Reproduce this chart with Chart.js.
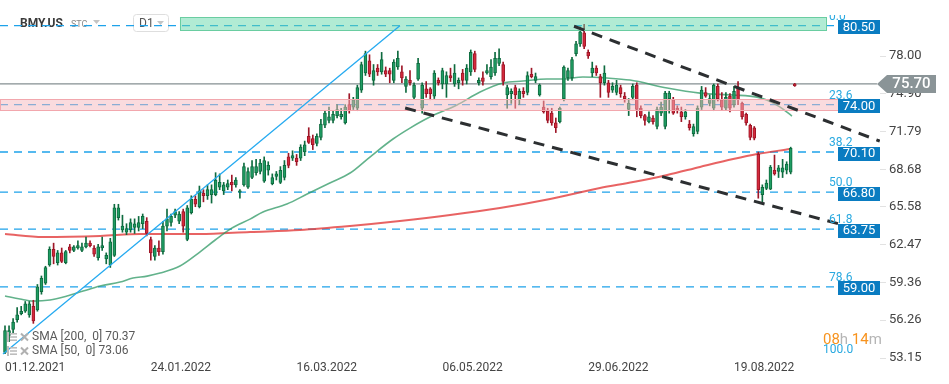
<!DOCTYPE html>
<html><head><meta charset="utf-8">
<script src="https://cdn.jsdelivr.net/npm/chart.js@4.4.1/dist/chart.umd.min.js"></script>
<style>html,body{margin:0;padding:0;background:#fff;overflow:hidden}canvas{display:block}</style>
</head><body>
<canvas id="c" width="949" height="384"></canvas>
<script>
// ---------- data ----------
const opens = [
53.6,55.0,55.5,56.3,56.8,57.0,56.7,57.4,57.1,58.6,
59.3,60.8,62.1,61.0,61.8,61.0,62.3,62.0,62.2,62.0,
62.3,62.6,62.2,61.4,62.2,61.3,60.8,61.6,64.7,63.7,
63.5,63.7,63.9,63.9,64.2,64.4,62.9,61.5,62.2,61.9,
64.0,64.3,64.9,64.4,65.2,62.9,65.1,66.2,65.6,66.7,
66.5,66.6,66.6,67.2,66.9,67.2,67.6,67.4,66.8,67.4,
67.2,68.0,68.4,68.5,67.7,68.6,67.5,68.1,67.6,68.0,
69.7,69.6,69.6,69.6,70.1,71.4,71.2,70.8,71.3,72.3,
72.7,72.7,73.1,73.0,72.5,74.0,73.8,73.7,75.2,76.6,
77.6,76.0,77.0,76.7,76.8,76.8,76.0,77.1,76.7,75.5,
76.0,74.6,76.1,73.7,75.3,75.3,74.7,76.0,75.7,75.7,
76.4,75.7,75.8,76.6,76.0,76.7,78.2,75.8,76.2,76.6,
76.3,76.6,77.4,77.3,74.8,74.9,75.4,74.4,75.1,75.0,
76.5,76.0,74.8,73.8,73.5,73.3,72.5,72.6,74.5,76.2,
76.2,78.2,79.0,79.9,78.3,76.6,77.0,76.3,75.8,75.8,
75.2,75.0,75.4,74.7,73.6,74.6,75.6,73.7,73.1,72.6,
72.9,72.2,73.3,72.2,74.5,74.4,73.7,73.4,73.0,72.4,
71.6,71.8,73.8,75.0,74.1,73.7,75.5,74.4,73.7,74.7,
74.0,75.4,74.1,73.2,72.3,72.1,69.9,66.6,67.1,67.05,
68.6,68.5,68.45,68.6,68.45,75.7];
const highs = [
55.8,55.8,56.4,57.3,57.4,57.8,57.8,57.9,59.2,59.9,
60.7,62.3,62.6,62.0,62.2,62.0,62.5,62.4,62.8,62.6,
63.1,62.8,62.4,62.5,63.1,61.8,63.0,65.8,65.8,64.9,
64.2,64.6,64.6,64.8,65.0,64.7,63.1,62.4,62.8,64.4,
65.4,65.0,65.4,65.2,65.4,65.7,66.5,66.5,67.3,67.0,
67.4,67.4,68.4,68.3,67.6,67.8,68.2,68.0,67.0,69.2,
68.8,69.4,69.5,69.5,69.7,69.3,68.3,68.5,68.9,69.4,
70.0,70.2,69.9,70.7,71.0,72.1,71.5,71.6,72.8,73.5,
73.8,73.5,74.0,73.7,74.0,74.9,74.6,75.6,77.5,78.4,
78.1,77.3,77.3,78.3,77.1,77.0,77.7,78.4,77.2,76.3,
76.8,75.8,77.8,75.8,75.9,75.4,76.8,76.2,77.0,76.7,
77.0,77.3,76.2,76.9,77.3,78.5,78.4,76.2,76.7,77.3,
77.7,78.3,78.6,77.5,75.6,75.3,75.6,75.3,75.4,76.7,
77.0,76.6,75.7,74.3,73.7,73.7,72.9,73.8,77.2,77.0,
77.9,79.2,80.4,80.6,78.5,77.5,77.2,76.5,77.2,76.0,
75.8,76.0,75.6,75.0,74.5,75.7,75.8,73.9,73.2,73.4,
73.1,73.8,74.2,75.1,75.1,74.6,73.9,73.8,73.6,72.7,
72.4,73.9,75.5,75.4,74.8,75.7,75.7,75.0,75.0,74.9,
75.5,75.9,74.2,73.3,72.4,72.2,70.1,67.4,67.8,69.0,
69.85,69.0,69.5,69.3,70.5,75.75];
const lows = [
53.5,54.5,55.2,56.1,56.7,56.9,56.5,56.0,57.0,58.4,
59.2,60.7,60.9,60.8,61.0,60.9,61.8,61.9,62.1,61.9,
62.2,62.3,61.5,61.2,62.0,60.9,60.6,61.5,64.5,63.5,
63.3,63.5,63.4,63.6,63.8,63.2,61.2,61.2,61.6,61.7,
63.6,64.0,64.7,64.2,63.5,62.8,65.0,65.6,65.5,66.0,
66.2,65.9,66.5,67.0,66.6,67.0,66.9,67.2,66.3,67.3,
67.1,67.9,68.2,68.3,67.6,68.2,67.4,67.8,67.5,67.8,
68.8,69.4,69.0,69.4,69.8,70.8,70.3,70.6,71.1,72.1,
72.5,72.5,72.9,72.8,72.4,73.3,73.6,73.5,75.0,76.4,
76.3,75.6,76.4,76.5,76.3,75.8,75.8,76.9,75.8,75.0,
75.6,74.4,76.0,73.3,74.6,74.4,74.5,75.6,75.3,74.6,
75.9,75.5,75.3,75.6,75.7,76.4,76.7,75.6,75.6,76.5,
76.1,76.4,77.2,75.6,73.7,74.1,73.7,74.0,74.6,74.8,
76.2,75.8,74.7,73.3,72.5,72.3,71.7,72.5,74.3,76.0,
76.0,78.0,78.8,78.6,77.8,76.3,76.4,74.6,75.6,74.6,
75.0,74.8,74.6,74.2,73.1,74.4,73.0,72.9,72.3,72.5,
72.4,72.0,73.1,72.0,73.3,73.2,73.3,72.6,72.8,71.9,
71.4,71.6,73.6,74.6,73.9,73.5,74.3,73.5,73.5,73.4,
73.8,74.0,72.8,72.3,71.1,71.1,66.3,65.9,67.0,67.0,
68.2,68.0,68.0,68.3,68.3,75.5];
const closes = [
55.4,55.4,56.1,56.7,57.0,57.6,57.6,56.2,59.0,59.7,
60.6,62.1,61.5,61.8,61.1,61.9,62.0,62.3,62.4,62.3,
62.6,62.4,61.7,62.3,62.4,61.6,62.7,65.5,65.5,64.0,
63.8,64.3,64.2,64.3,64.8,63.4,61.8,62.2,61.9,64.0,
64.6,64.8,65.2,65.0,64.0,65.5,66.2,65.8,66.9,66.5,
67.0,67.0,67.8,67.6,67.4,67.5,67.4,67.8,66.9,68.9,
68.5,68.9,68.9,69.2,69.4,69.0,68.0,68.3,68.6,69.0,
69.0,69.8,69.3,70.5,70.7,70.9,70.7,71.4,72.4,73.3,
73.0,73.2,73.6,73.2,73.8,73.5,74.4,75.4,77.3,78.2,
76.5,76.8,76.7,77.7,76.5,76.5,77.5,77.8,76.2,76.1,
75.8,75.6,77.4,75.6,74.9,74.9,76.6,75.8,76.8,76.4,
76.2,76.6,76.0,76.0,77.0,78.3,76.9,76.0,75.9,76.8,
77.1,77.8,77.8,75.9,75.4,75.1,74.8,75.1,74.9,76.4,
76.3,76.3,75.6,73.4,72.7,72.5,72.1,73.7,77.1,76.8,
77.7,79.0,80.0,78.8,78.0,77.0,76.6,75.8,76.6,75.0,
75.5,75.6,74.9,74.5,74.1,75.5,73.6,73.1,72.7,73.0,
72.6,73.6,73.8,74.95,74.95,73.3,73.5,73.0,73.4,72.1,
72.2,73.7,75.2,74.7,74.5,75.6,74.5,73.8,74.6,73.7,
75.1,74.4,73.0,72.5,71.3,71.25,67.0,67.2,67.55,68.87,
68.3,68.8,68.8,69.1,70.4,75.55];

const dateTickIndex = [0, 36, 72, 108, 144, 180];
const dateTickLabels = ['01.12.2021','24.01.2022','16.03.2022','06.05.2022','29.06.2022','19.08.2022'];
const priceTicks = [53.15, 56.26, 59.36, 62.47, 65.58, 68.68, 71.79, 74.90, 78.00];

// moving averages: [candle index, value]
const sma50 = [[0,58.25],[3.7,58.0],[6.9,57.83],[11.1,57.92],[15.3,58.25],[19.3,58.66],[23.5,59.07],[28.4,59.4],
  [31.6,59.73],[35.1,59.89],[38.3,60.14],[43.2,60.72],[48.1,61.87],[51.9,62.86],[55.6,63.76],[60.5,64.58],
  [63.7,65.16],[69.6,65.82],[74.6,66.64],[80.2,67.55],[85.2,68.37],[90.1,69.69],[95.8,71.17],[100,72.07],
  [104.9,72.98],[111.6,73.97],[117.3,75.04],[123,75.78],[127.9,75.94],[133.8,76.11],[137.8,76.11],[142.7,76.27],
  [148.6,76.19],[154.3,76.02],[163.5,75.37],[171.6,74.95],[179.8,74.79],[185.7,74.62],[188.1,74.38],[191.4,73.8],[194.3,73.06]];
const sma200 = [[0,63.35],[9.4,63.1],[23.5,63.19],[33.3,63.35],[48.1,63.35],[60.5,63.52],[72.8,63.68],[85.2,64.01],
  [97.5,64.42],[109.9,64.91],[122.2,65.49],[134.6,66.23],[146.9,67.14],[155.1,67.63],[163.5,68.21],[171.6,68.87],
  [179.8,69.52],[185.7,69.93],[193.8,70.35]];
const sma200Last = 70.37, sma50Last = 73.06;

// drawn objects
const levels = [80.50, 74.00, 70.10, 66.80, 63.75, 59.00];
const fibLabels = ['0.0', '23.6', '38.2', '50.0', '61.8', '78.6'];
const fibEndLabel = '100.0';
const lastPrice = 75.70;
const trendUp = [[-0.5, 53.47], [97.5, 80.5]];
const trendDownTop = [[140.5, 80.45], [216, 71.0]];
const trendDownLow = [[98.8, 73.72], [209.4, 63.88]];
const greenZone = [80.14, 81.21];
const pinkZone = [73.56, 74.46];

// ---------- layout constants ----------
const X_MIN = -1.235, X_MAX = 216.05, Y_MIN = 53.15, Y_MAX = 82.61;
const LEVEL_END = 205.7, PRICE_END = 215.3, GZ_START = 43.2, GZ_END = 202.7;
const UP_FILL = '#1f9d63', UP_LINE = '#0e6b3f', DN_FILL = '#d42a3c', DN_LINE = '#9e1627';
const FIB_BLUE = '#29a9e0', BOX_BLUE = '#0a7cc1';
const FONT = 'Roboto, "Open Sans", sans-serif';

const pts = arr => arr.map(p => ({x: p[0], y: p[1]}));
const isUp = i => closes[i] >= opens[i];
const idx = opens.map((_, i) => i);

const datasets = [];
levels.forEach(v => datasets.push({
  type: 'line', label: 'lvl', data: [{x: X_MIN, y: v}, {x: LEVEL_END, y: v}],
  borderColor: '#1ea2ea', borderWidth: 1.3, borderDash: [8, 6], pointRadius: 0, order: 10
}));
datasets.push({type: 'line', label: 'last', data: [{x: X_MIN, y: lastPrice}, {x: PRICE_END, y: lastPrice}],
  borderColor: '#858f92', borderWidth: 1.2, pointRadius: 0, order: 9});
datasets.push({type: 'line', label: 'sma200', data: pts(sma200), borderColor: 'rgba(226,60,60,0.8)', borderWidth: 2,
  pointRadius: 0, cubicInterpolationMode: 'monotone', order: 8});
datasets.push({type: 'line', label: 'sma50', data: pts(sma50), borderColor: 'rgba(46,152,100,0.75)', borderWidth: 1.6,
  pointRadius: 0, cubicInterpolationMode: 'monotone', order: 7});
datasets.push({type: 'bar', label: 'wick', data: idx.map(i => ({x: i, y: [lows[i], highs[i]]})),
  backgroundColor: c => isUp(c.dataIndex) ? UP_LINE : DN_LINE, borderWidth: 0, grouped: false,
  categoryPercentage: 1, barPercentage: 1, maxBarThickness: 1, order: 6});
datasets.push({type: 'bar', label: 'body', data: idx.map(i => ({x: i, y: [opens[i], closes[i]]})),
  backgroundColor: c => isUp(c.dataIndex) ? UP_FILL : DN_FILL,
  borderColor: c => isUp(c.dataIndex) ? UP_LINE : DN_LINE, borderWidth: 1, borderSkipped: false,
  grouped: false, categoryPercentage: 1, barPercentage: 1, maxBarThickness: 3, minBarLength: 1, order: 5});
datasets.push({type: 'line', label: 'trendUp', data: pts(trendUp), borderColor: '#25aaf0', borderWidth: 1.3, pointRadius: 0, order: 3});
[trendDownTop, trendDownLow].forEach(t => datasets.push({type: 'line', label: 'trendDn', data: pts(t),
  borderColor: '#2c2f31', borderWidth: 3, borderDash: [11, 8], pointRadius: 0, order: 2}));

function drawHeader(ctx) {
  ctx.save();
  ctx.textBaseline = 'middle';
  ctx.fillStyle = '#3a3a3a';
  ctx.font = 'bold 12px ' + FONT;
  ctx.fillText('BMY.US', 20, 24);
  ctx.fillStyle = '#8a8a8a';
  ctx.font = '9px ' + FONT;
  ctx.fillText('STC', 71, 25);
  ctx.fillStyle = '#c4c4c4';
  ctx.beginPath(); ctx.moveTo(93, 20); ctx.lineTo(100, 20); ctx.lineTo(96.5, 24); ctx.fill();
  ctx.fillStyle = 'rgba(255,255,255,0.6)';
  ctx.strokeStyle = '#dedede'; ctx.lineWidth = 1;
  ctx.beginPath(); ctx.roundRect(133.5, 14.5, 35, 17, 3); ctx.fill(); ctx.stroke();
  ctx.fillStyle = '#555'; ctx.font = '12px ' + FONT;
  ctx.fillText('D1', 139, 24);
  ctx.fillStyle = '#c4c4c4';
  ctx.beginPath(); ctx.moveTo(157, 21); ctx.lineTo(164, 21); ctx.lineTo(160.5, 25); ctx.fill();
  ctx.restore();
}

function drawZones(chart) {
  const {ctx, scales: {x, y}} = chart;
  ctx.save();
  let x0 = x.getPixelForValue(GZ_START), x1 = x.getPixelForValue(GZ_END);
  let y0 = y.getPixelForValue(greenZone[1]), y1 = y.getPixelForValue(greenZone[0]);
  ctx.fillStyle = 'rgba(100,215,170,0.5)';
  ctx.fillRect(x0, y0, x1 - x0, y1 - y0);
  ctx.strokeStyle = '#6acda1'; ctx.lineWidth = 1;
  ctx.strokeRect(Math.round(x0) + 0.5, Math.round(y0) + 0.5, Math.round(x1 - x0), Math.round(y1 - y0));
  x0 = x.getPixelForValue(X_MIN); x1 = x.getPixelForValue(LEVEL_END);
  y0 = y.getPixelForValue(pinkZone[1]); y1 = y.getPixelForValue(pinkZone[0]);
  ctx.fillStyle = 'rgba(245,184,189,0.5)';
  ctx.fillRect(x0, y0, x1 - x0, y1 - y0);
  ctx.strokeStyle = '#f2a7ad';
  ctx.strokeRect(Math.round(x0) + 0.5, Math.round(y0) + 0.5, Math.round(x1 - x0), Math.round(y1 - y0));
  ctx.restore();
}

function drawOverlays(chart) {
  const {ctx, chartArea, scales: {y}} = chart;
  ctx.save();
  ctx.textBaseline = 'middle';
  // fib labels
  ctx.font = '12px ' + FONT;
  ctx.fillStyle = FIB_BLUE;
  levels.forEach((v, k) => {
    const py = y.getPixelForValue(v) - 9;
    ctx.save();
    ctx.beginPath(); ctx.rect(0, 15, 949, 400); ctx.clip();
    ctx.fillText(fibLabels[k], 829, py);
    ctx.restore();
  });
  ctx.fillText(fibEndLabel, 823, 350);
  // value boxes
  ctx.font = '13px ' + FONT;
  levels.forEach(v => {
    const py = y.getPixelForValue(v) + 1.5;
    ctx.fillStyle = BOX_BLUE;
    ctx.fillRect(chartArea.right - 42, Math.round(py - 7), 42, 14);
    ctx.fillStyle = '#fff';
    ctx.textAlign = 'center';
    ctx.fillText(v.toFixed(2), chartArea.right - 21, py + 0.5);
  });
  // last price arrow
  const lp = y.getPixelForValue(lastPrice);
  ctx.fillStyle = '#8a9497';
  ctx.beginPath();
  ctx.moveTo(877, lp); ctx.lineTo(887, lp - 9); ctx.lineTo(936, lp - 9); ctx.lineTo(936, lp + 9); ctx.lineTo(887, lp + 9);
  ctx.closePath(); ctx.fill();
  ctx.fillStyle = '#fff'; ctx.font = '500 15px ' + FONT; ctx.textAlign = 'center';
  ctx.fillText(lastPrice.toFixed(2), 911.5, lp + 0.5);
  // timer
  ctx.textAlign = 'left';
  ctx.font = '15px ' + FONT;
  let tx = 823;
  [['08', '#f7931e'], ['h', '#b5b5b5'], [' 14', '#f7931e'], ['m', '#b5b5b5']].forEach(([t, c]) => {
    ctx.fillStyle = c; ctx.fillText(t, tx, 340); tx += ctx.measureText(t).width;
  });
  // legend
  const rows = [['SMA [200,  0] ' + sma200Last.toFixed(2), 337], ['SMA [50,  0] ' + sma50Last.toFixed(2), 351]];
  rows.forEach(([t, py]) => {
    ctx.fillStyle = '#bdbdbd';
    ctx.fillRect(7, py - 5, 2, 10);
    for (let k = 0; k < 3; k++) ctx.fillRect(10, py - 4 + k * 3.2, 7, 1.6);
    ctx.strokeStyle = '#b0b0b0'; ctx.lineWidth = 2;
    ctx.beginPath(); ctx.moveTo(21, py - 3.5); ctx.lineTo(28, py + 3.5); ctx.moveTo(28, py - 3.5); ctx.lineTo(21, py + 3.5); ctx.stroke();
    ctx.fillStyle = '#5a5a5a'; ctx.font = '12px ' + FONT;
    ctx.fillText(t, 32, py);
  });
  ctx.restore();
}

const overlay = {
  id: 'overlay',
  beforeDatasetsDraw(chart) { drawHeader(chart.ctx); },
  afterDatasetDraw(chart, args) {
    if (chart.data.datasets[args.index].label === 'body') drawZones(chart);
  },
  afterDraw(chart) { drawOverlays(chart); }
};

new Chart(document.getElementById('c'), {
  type: 'bar',
  data: {datasets},
  options: {
    responsive: false, animation: false, devicePixelRatio: 1,
    layout: {padding: 0},
    plugins: {legend: {display: false}, tooltip: {enabled: false}},
    scales: {
      x: {
        type: 'linear', min: X_MIN, max: X_MAX, offset: false,
        grid: {display: false, drawTicks: false}, border: {display: false},
        afterBuildTicks: s => { s.ticks = dateTickIndex.map(v => ({value: v})); },
        afterFit: s => { s.height = 26; s.paddingLeft = 0; s.paddingRight = 0; },
        ticks: {autoSkip: false, maxRotation: 0, align: 'start', padding: 3, color: '#444',
          font: {family: FONT, size: 12},
          callback: v => { const k = dateTickIndex.indexOf(v); return k >= 0 ? dateTickLabels[k] : ''; }}
      },
      y: {
        position: 'right', min: Y_MIN, max: Y_MAX,
        grid: {drawOnChartArea: false, drawTicks: true, tickLength: 6, color: '#e2e2e2'},
        border: {display: false},
        afterBuildTicks: s => { s.ticks = priceTicks.map(v => ({value: v})); },
        afterFit: s => { s.width = 69; s.paddingTop = 0; s.paddingBottom = 0; },
        ticks: {padding: 3, color: '#444', font: {family: FONT, size: 13}, callback: v => v.toFixed(2)}
      }
    }
  },
  plugins: [overlay]
});
</script>
</body></html>
